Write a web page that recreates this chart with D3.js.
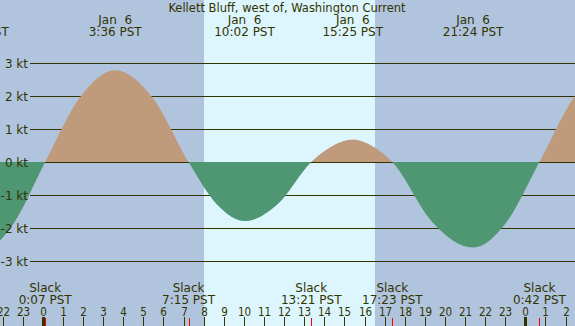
<!DOCTYPE html>
<html><head><meta charset="utf-8">
<script src="https://cdn.jsdelivr.net/npm/d3@7"></script>
<style>html,body{margin:0;padding:0;overflow:hidden;background:#b0c4de}svg{display:block}text{white-space:pre}</style>
</head><body><svg id="c" width="575" height="326"></svg>
<script>
const title = "Kellett Bluff, west of, Washington Current";
// tide-current events (hours from Jan 6 00:00 PST) and speeds in knots
const eventHours = [-6.6, -3.2, 0.117, 3.6, 7.25, 10.033, 13.35, 15.417, 17.383, 21.4, 24.7, 28.2, 31.6];
const eventKnots = [0, -2.75, 0, 2.78, 0, -1.79, 0, 0.68, 0, -2.59, 0, 2.8, 0];
// extra speeds
const readHours = [-1.54, 1.86, 5.43, 8.64, 11.69, 14.38, 16.4, 19.39, 23.05, 26.45];
const readKnots = [-1.94, 1.97, 1.97, -1.27, -1.27, 0.48, 0.48, -1.83, -1.83, 1.98];
// max-current labels (top)
const maxHours = [-3.2, 3.6, 10.033, 15.417, 21.4];
const maxDates = ["Jan  5", "Jan  6", "Jan  6", "Jan  6", "Jan  6"];
const maxTimes = ["20:48 PST", "3:36 PST", "10:02 PST", "15:25 PST", "21:24 PST"];
// slack labels (bottom)
const slackHours = [0.117, 7.25, 13.35, 17.383, 24.7];
const slackTimes = ["0:07 PST", "7:15 PST", "13:21 PST", "17:23 PST", "0:42 PST"];
// daylight
const sunriseHour = 8.02, sunsetHour = 16.52;
// axes
const knotTicks = [3, 2, 1, 0, -1, -2, -3];
const hourTickValues = [-2,-1,0,1,2,3,4,5,6,7,8,9,10,11,12,13,14,15,16,17,18,19,20,21,22,23,24,25,26];
const hourTickLabels = ["22","23","0","1","2","3","4","5","6","7","8","9","10","11","12","13","14","15","16","17","18","19","20","21","22","23","0","1","2"];

const W = 575, H = 326;
const NIGHT = "#b0c4de", DAY = "#ddf6fe", FLOOD = "#bf9b7b", EBB = "#4f9673", INK = "#333300";
const FONT = "DejaVu Sans, sans-serif";
const FONT_C = "DejaVu Sans Condensed, DejaVu Sans, sans-serif";

const x = d3.scaleLinear().domain([-2.13, 26.47]).range([0, W]);
const y = d3.scaleLinear().domain([-3, 3]).range([261, 63]);

const svg = d3.select("#c");
svg.append("rect").attr("width", W).attr("height", H).attr("fill", NIGHT);
svg.append("rect").attr("x", x(sunriseHour)).attr("y", 0)
  .attr("width", x(sunsetHour) - x(sunriseHour)).attr("height", H).attr("fill", DAY);

// grid lines
svg.append("g").selectAll("line").data(knotTicks).join("line")
  .attr("x1", 30).attr("x2", W)
  .attr("y1", d => Math.round(y(d)) + 0.5).attr("y2", d => Math.round(y(d)) + 0.5)
  .attr("stroke", INK).attr("stroke-width", 1);

// curve
const data = eventHours.map((h, i) => ({h, v: eventKnots[i]}))
  .concat(readHours.map((h, i) => ({h, v: readKnots[i]})))
  .sort((a, b) => a.h - b.h);
const y0 = y(0);
const defs = svg.append("defs");
defs.append("clipPath").attr("id", "above").append("rect").attr("x", 0).attr("y", 0).attr("width", W).attr("height", y0);
defs.append("clipPath").attr("id", "below").append("rect").attr("x", 0).attr("y", y0).attr("width", W).attr("height", H - y0);
const area = d3.area().x(d => x(d.h)).y0(y0).y1(d => y(d.v)).curve(d3.curveMonotoneX);
svg.append("path").datum(data).attr("d", area).attr("fill", FLOOD).attr("clip-path", "url(#above)");
svg.append("path").datum(data).attr("d", area).attr("fill", EBB).attr("clip-path", "url(#below)");

// y labels
svg.append("g").selectAll("text").data(knotTicks).join("text")
  .attr("x", 28).attr("y", d => y(d) + 4.5).attr("text-anchor", "end")
  .attr("font-family", FONT).attr("font-size", 12).attr("fill", INK)
  .text(d => d + " kt");

// title
svg.append("text").attr("x", 287).attr("y", 12).attr("text-anchor", "middle")
  .attr("font-family", FONT).attr("font-size", 11.5).attr("fill", INK).text(title);

// top labels
const topG = svg.append("g").attr("font-family", FONT).attr("font-size", 12).attr("fill", INK)
  .attr("text-anchor", "middle");
maxHours.forEach((h, i) => {
  topG.append("text").attr("x", x(h)).attr("y", 23.5).text(maxDates[i]);
  topG.append("text").attr("x", x(h)).attr("y", 35.5).text(maxTimes[i]);
});

// bottom slack labels
const botG = svg.append("g").attr("font-family", FONT).attr("font-size", 12).attr("fill", INK)
  .attr("text-anchor", "middle");
slackHours.forEach((h, i) => {
  botG.append("text").attr("x", x(h)).attr("y", 292).text("Slack");
  botG.append("text").attr("x", x(h)).attr("y", 304).text(slackTimes[i]);
});

// hour ticks
const htG = svg.append("g");
hourTickValues.forEach((h, i) => {
  const px = Math.round(x(h)) + 0.5;
  htG.append("line").attr("x1", px).attr("x2", px).attr("y1", 317).attr("y2", H)
    .attr("stroke", INK).attr("stroke-width", hourTickLabels[i] === "0" ? 3 : 1);
  htG.append("text").attr("x", px).attr("y", 315.5).attr("text-anchor", "middle")
    .attr("font-family", FONT_C).attr("font-size", 11.5).attr("fill", INK).text(hourTickLabels[i]);
});
// slack ticks (red)
svg.append("g").selectAll("line").data(slackHours).join("line")
  .attr("x1", d => Math.round(x(d)) + 0.5).attr("x2", d => Math.round(x(d)) + 0.5)
  .attr("y1", 318).attr("y2", H).attr("stroke", "#ff0000").attr("stroke-width", 1);
</script></body></html>
